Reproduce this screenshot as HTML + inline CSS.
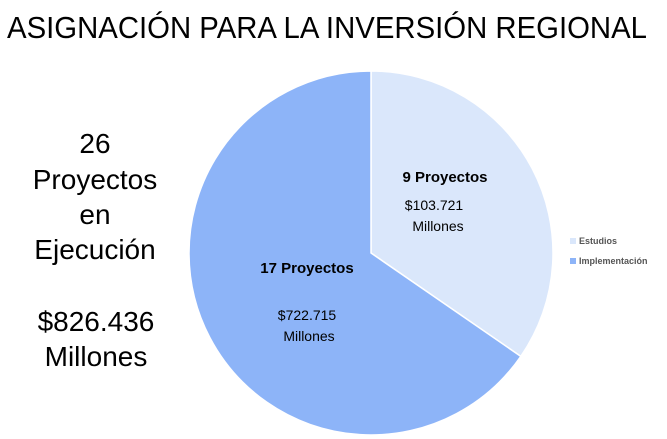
<!DOCTYPE html>
<html><head><meta charset="utf-8"><style>
html,body{margin:0;padding:0;background:#fff;width:667px;height:439px;overflow:hidden}
text{font-family:"Liberation Sans",sans-serif}
</style></head><body>
<svg id="chart" width="667" height="439">
<text x="327" y="38" font-size="31" text-anchor="middle" textLength="640" lengthAdjust="spacingAndGlyphs" fill="#000">ASIGNACIÓN PARA LA INVERSIÓN REGIONAL</text>
<g font-size="28" text-anchor="middle" fill="#000">
<text x="95" y="153">26</text>
<text x="95" y="189">Proyectos</text>
<text x="95" y="224">en</text>
<text x="95" y="259">Ejecución</text>
<text x="96" y="331">$826.436</text>
<text x="96" y="366">Millones</text>
</g>
<g id="pie"></g>
<g font-size="9" font-weight="bold" fill="#555">
<rect x="570" y="238" width="6" height="6" fill="#dae7fb"/>
<text x="579" y="244">Estudios</text>
<rect x="570" y="258" width="6" height="6" fill="#8db4f8"/>
<text x="579" y="264">Implementación</text>
</g>
</svg>
<script>
const categories=["Estudios","Implementación"];
const values=[9,17];
const projectLabels=["9 Proyectos","17 Proyectos"];
const amountLabels=["$103.721","$722.715"];
const colors=["#dae7fb","#8db4f8"];
const cx=371,cy=253,r=182;
const ns="http://www.w3.org/2000/svg";
const g=document.getElementById("pie");
const total=values.reduce((a,b)=>a+b,0);
function pt(a,rr){return [cx+rr*Math.sin(a),cy-rr*Math.cos(a)];}
let start=0;
const labelPos=[[[445,182],[434,210],[438,231]],[[307,273],[307,320],[309,341]]];
values.forEach((v,i)=>{
  const end=start+v/total*2*Math.PI;
  const p0=pt(start,r),p1=pt(end,r);
  const large=(end-start)>Math.PI?1:0;
  const path=document.createElementNS(ns,"path");
  path.setAttribute("d",`M${cx},${cy}L${p0[0]},${p0[1]}A${r},${r} 0 ${large} 1 ${p1[0]},${p1[1]}Z`);
  path.setAttribute("fill",colors[i]);
  path.setAttribute("stroke","#fff");
  path.setAttribute("stroke-width","1.5");
  
  
  g.appendChild(path);
  const lines=[[projectLabels[i],15,"bold"],[amountLabels[i],14,"normal"],["Millones",14,"normal"]];
  lines.forEach((l,j)=>{
    const t=document.createElementNS(ns,"text");
    t.setAttribute("x",labelPos[i][j][0]);
    t.setAttribute("y",labelPos[i][j][1]);
    t.setAttribute("text-anchor","middle");
    t.setAttribute("font-size",l[1]);
    t.setAttribute("font-weight",l[2]);
    t.setAttribute("fill","#000");
    
    
    t.textContent=l[0];
    g.appendChild(t);
  });
  start=end;
});
</script>
</body></html>
